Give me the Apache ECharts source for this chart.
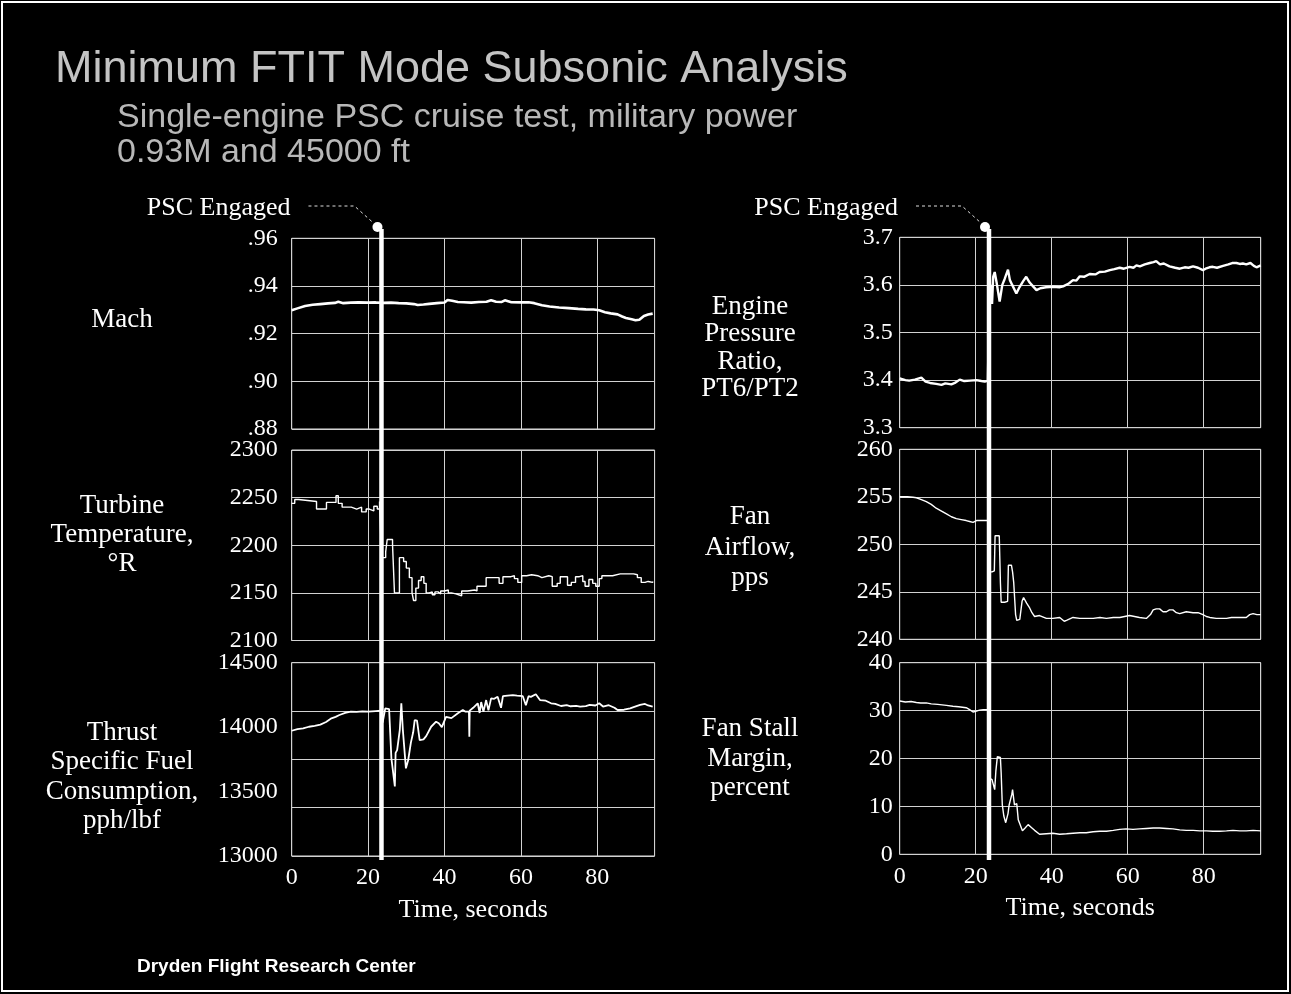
<!DOCTYPE html>
<html><head><meta charset="utf-8">
<script src="https://cdn.jsdelivr.net/npm/echarts@6/dist/echarts.min.js"></script>
<style>html,body{margin:0;padding:0;background:#000;}#c{width:1291px;height:994px;}</style>
</head><body><div id="c"></div>
<script>
// ---------- DATA ----------
const pscTime = 23.5;            // seconds, PSC engaged
const timeMax = 95;
const timeInterval = 20;

const machTicks = [0.88, 0.96, 0.02];
const eprTicks = [3.3, 3.7, 0.1];
const tempTicks = [2100, 2300, 50];
const airTicks = [240, 260, 5];
const tsfcTicks = [13000, 14500, 500];
const stallTicks = [0, 40, 10];

const machData = [[0,.9298],[1.5,.9306],[3.5,.9316],[5.5,.9321],[7.5,.9324],[9.5,.9327],[11.3,.9329],[12.2,.9334],[13.5,.9328],[15.5,.9330],[17.5,.9331],[20,.9330],[22,.9331],[24,.9329],[26,.9330],[28,.9328],[30,.9327],[32,.9324],[33,.9320],[34.5,.9322],[36,.9325],[38,.9328],[40,.9331],[40.8,.9341],[42,.9338],[43.5,.9333],[45,.9332],[47,.9330],[49,.9333],[51,.9334],[52.2,.9340],[53.5,.9334],[55,.9333],[55.8,.9340],[57.5,.9332],[60,.9331],[62,.9332],[63.5,.9328],[65.5,.9319],[67.5,.9314],[70,.9310],[72.5,.9307],[75,.9304],[77,.9302],[79,.9301],[80.5,.9298],[82,.9290],[83.5,.9285],[85.3,.9281],[86.5,.9272],[87.5,.9266],[89,.9260],[90,.9256],[91,.9258],[92.2,.9274],[93.3,.9280],[94.5,.9284]];

const tempData = [[0,2244],[0.8,2248],[1.8,2246],[6.5,2238],[9.1,2245],[11.6,2252],[12.2,2244],[13.2,2240],[15.6,2238],[17,2240],[18.3,2235],[19.5,2238],[20.3,2236],[21.5,2241],[22.4,2238],[23,2246],[23.5,2187],[24.6,2193],[25.0,2206],[26.4,2200],[26.9,2150],[28.2,2187],[29.3,2183],[30,2176],[30.8,2166],[31.5,2150],[31.9,2142],[32.5,2155],[33.2,2163],[33.9,2167],[34.6,2160],[35.2,2150],[36,2151],[36.8,2148],[37.5,2151],[38.3,2149],[39,2152],[40,2153],[41,2150],[41.8,2149],[43,2148],[43.7,2147],[44.5,2152],[46,2153],[47.9,2152],[48.5,2157],[50.2,2157],[50.9,2166],[53,2166],[54.3,2160],[55.3,2167],[57.4,2168],[58.3,2165],[59.2,2161],[60.2,2168],[61.5,2169],[62.8,2168],[64.4,2166],[65.5,2168],[67.3,2167],[68.2,2157],[69.5,2160],[70.3,2167],[72.2,2158],[73.2,2161],[74.3,2167],[75.3,2168],[76.2,2162],[76.8,2157],[77.8,2164],[78.8,2160],[79.6,2157],[80.5,2165],[81.2,2168],[82.6,2168],[84,2170],[86,2170],[88.4,2170],[89.5,2169],[90.5,2166],[91.5,2161],[92.5,2162],[93.3,2161],[94.5,2162]];

const tsfcData = [[0,13972],[1.5,13985],[3,13990],[4.5,14003],[6,14010],[7.5,14020],[9,14040],[10.4,14068],[11.5,14080],[12.5,14094],[14,14110],[15.5,14120],[17,14118],[18.5,14122],[20,14120],[22,14125],[23.3,14128],[23.8,14035],[24.5,14146],[25.5,14140],[26.1,13758],[26.6,13770],[27.0,13540],[27.2,13800],[27.6,13822],[28.3,13978],[28.7,14185],[29.1,13978],[29.9,13680],[30.5,13745],[31.2,13880],[31.8,13960],[32.2,14055],[32.8,14050],[33.5,13900],[34.5,13905],[35.2,13930],[36.5,14003],[37.8,14042],[38.5,14030],[39.3,14000],[40.4,14080],[41.8,14070],[43.5,14107],[44.8,14133],[45.5,14120],[46.4,14120],[46.5,13926],[46.6,14128],[47.5,14150],[48.7,14185],[49.2,14110],[49.6,14195],[50.2,14120],[50.9,14210],[51.5,14130],[52.2,14223],[53,14220],[53.9,14236],[54.8,14150],[55.3,14240],[56.5,14245],[57.9,14249],[59,14245],[60.5,14240],[61.3,14170],[62,14240],[62.6,14235],[63.9,14255],[65,14210],[66.5,14205],[67.9,14185],[69,14180],[70.5,14164],[72,14170],[73,14162],[74.5,14165],[75.5,14159],[77,14163],[78,14172],[79.5,14168],[80.5,14185],[81.5,14160],[83,14170],[84.5,14150],[85.3,14133],[87,14135],[88.6,14146],[89.5,14155],[91.2,14172],[92.5,14180],[93.3,14168],[94.5,14159]];

const eprData = [[0,3.4035],[1.5,3.400],[2.5,3.399],[4,3.401],[5.7,3.405],[6.8,3.397],[8,3.394],[9.6,3.392],[11,3.390],[12,3.393],[13.6,3.391],[14.5,3.394],[15.8,3.401],[17,3.398],[18.5,3.399],[20.2,3.400],[21.5,3.398],[22.4,3.397],[23.2,3.399],[23.6,3.57],[24,3.60],[24.3,3.56],[24.6,3.617],[25,3.627],[25.5,3.605],[26.3,3.565],[27,3.600],[27.6,3.612],[28.5,3.632],[29,3.610],[29.6,3.600],[30.7,3.582],[31.5,3.595],[32.5,3.608],[33.3,3.617],[34.2,3.605],[35.1,3.597],[36,3.589],[37,3.593],[38.5,3.595],[40.4,3.596],[42,3.595],[43,3.597],[44.5,3.603],[45.6,3.610],[46.5,3.609],[47.4,3.618],[48.5,3.617],[50,3.623],[51.5,3.622],[52.6,3.627],[54,3.628],[55.3,3.631],[56.5,3.633],[57.9,3.636],[59,3.634],[60.5,3.638],[61.5,3.636],[62.3,3.641],[63.2,3.639],[64.5,3.643],[65.8,3.646],[66.8,3.648],[67.5,3.650],[68.5,3.643],[69.5,3.645],[71,3.639],[72.5,3.636],[73.7,3.634],[75,3.637],[76,3.636],[77.2,3.639],[78.5,3.636],[79.8,3.631],[80.5,3.634],[81.5,3.637],[82.4,3.638],[83.5,3.636],[85.1,3.640],[86.5,3.643],[87.5,3.646],[88.6,3.646],[89.5,3.644],[90.3,3.645],[91.2,3.643],[92.3,3.646],[93.2,3.640],[93.9,3.637],[95,3.641]];

const airData = [[0,255.0],[2,255.0],[3.5,254.95],[4.4,254.9],[5.7,254.7],[7,254.5],[8.3,254.2],[9.6,253.8],[11,253.5],[12.3,253.2],[13.6,252.9],[14.9,252.7],[16.2,252.6],[17.5,252.5],[18.4,252.4],[19.3,252.3],[20.2,252.5],[21.9,252.5],[23.2,252.5],[23.6,247.1],[24.3,247.1],[24.9,247.2],[25.1,250.9],[26.2,250.9],[26.5,246.0],[26.7,243.9],[27.6,243.9],[28.4,244.0],[28.6,247.8],[29.4,247.8],[29.7,247.1],[30,246.0],[30.5,242.6],[30.8,242.0],[31.6,242.1],[32.2,244.0],[32.6,244.4],[33.4,243.8],[34.2,243.3],[34.8,242.8],[35.5,242.4],[36.8,242.5],[38.6,242.2],[40.3,242.2],[42.1,242.3],[43.3,241.9],[43.9,242.0],[45.6,242.3],[47.4,242.2],[49.1,242.2],[50.9,242.2],[52.7,242.3],[54.4,242.2],[56.2,242.3],[57.9,242.3],[59.2,242.4],[60.5,242.5],[61.8,242.4],[63.1,242.3],[64.9,242.2],[66,242.6],[66.7,243.1],[67.5,243.2],[68.4,243.2],[69.3,242.9],[70.2,242.9],[71,243.1],[71.9,243.1],[72.8,242.8],[73.7,242.7],[75.4,242.9],[77.2,242.8],[78.5,242.8],[79.8,242.6],[80.7,242.4],[81.6,242.3],[83.3,242.2],[84.6,242.2],[86,242.2],[87.3,242.3],[88.6,242.3],[90,242.3],[91.2,242.3],[92.1,242.6],[93,242.7],[94,242.6],[95,242.6]];

const stallData = [[0,32.0],[1.5,31.8],[3,31.9],[4.4,31.7],[5.5,31.6],[7,31.6],[8.3,31.4],[10,31.3],[12.3,31.1],[14,30.9],[15.5,30.8],[17.5,30.6],[18.4,30.2],[19.3,29.7],[20.2,29.9],[21,30.1],[22,30.2],[23.2,30.2],[23.6,15.9],[24.3,15.6],[24.8,15.6],[25.0,13.5],[25.3,17.3],[25.7,20.4],[26.5,20.2],[26.7,17],[27,10.3],[27.4,8],[27.9,6.6],[28.5,8.5],[28.8,10.3],[29.5,12.5],[29.7,13.5],[30.2,10.3],[30.8,10.6],[31.2,7.2],[32.3,4.9],[33.0,5.5],[33.8,6.2],[34.8,5.5],[35.5,5.0],[36.8,4.2],[38.6,4.3],[40.3,4.4],[42.1,4.2],[43.9,4.3],[45.6,4.4],[47.4,4.5],[49.1,4.5],[50.9,4.7],[52.7,4.8],[54.4,4.8],[56.2,5.0],[57.9,5.2],[59.6,5.3],[61.4,5.2],[63.1,5.3],[64.9,5.4],[66.7,5.5],[68.4,5.5],[70.2,5.4],[71.9,5.3],[73.7,5.1],[75.4,5.0],[77.2,5.0],[79,4.9],[80.7,4.9],[82.4,4.8],[84.2,4.8],[86,4.9],[87.7,5.0],[89.5,4.9],[91.2,4.9],[93,5.0],[95,4.9]];

const leftNames = ['Mach', 'Turbine\nTemperature,\n°R', 'Thrust\nSpecific Fuel\nConsumption,\npph/lbf'];
const rightNames = ['Engine\nPressure\nRatio,\nPT6/PT2', 'Fan\nAirflow,\npps', 'Fan Stall\nMargin,\npercent'];
const titleText = 'Minimum FTIT Mode Subsonic Analysis';
const subText1 = 'Single-engine PSC cruise test, military power';
const subText2 = '0.93M and 45000 ft';
const footerText = 'Dryden Flight Research Center';
const pscLabel = 'PSC Engaged';
const xName = 'Time, seconds';

// ---------- LAYOUT ----------
const serif = 'Liberation Serif';
const sans = 'Liberation Sans';
const gridC = '#d2d2d2';
const L = 291.7, LW = 362.9, R = 899.7, RW = 361;
const grids = [
  {left:L, top:238.3, width:LW, height:190.7},
  {left:L, top:450, width:LW, height:190.5},
  {left:L, top:662.7, width:LW, height:193.3},
  {left:R, top:237.3, width:RW, height:190.4},
  {left:R, top:449.3, width:RW, height:190},
  {left:R, top:662.7, width:RW, height:191.6},
  {left:L, top:229, width:LW, height:631},
  {left:R, top:229, width:RW, height:631}
].map((g,i) => Object.assign({show: i<6, borderColor:'#e0e0e0', borderWidth:1, backgroundColor:'transparent', containLabel:false}, g));

function xAx(g, showLab, hidden) {
  return {type:'value', gridIndex:g, min:0, max:timeMax, interval:timeInterval, show:!hidden,
    axisLine:{show:false}, axisTick:{show:false},
    splitLine:{show:true, lineStyle:{color:gridC, width:1}},
    axisLabel:{show:showLab, color:'#fff', fontFamily:serif, fontSize:24, margin:10, showMaxLabel:false},
    name: showLab ? xName : '', nameLocation:'middle', nameGap:41,
    nameTextStyle:{color:'#fff', fontFamily:serif, fontSize:26}};
}
function yAx(g, t, margin, fmt, showSplit) {
  return {type:'value', gridIndex:g, min:t[0], max:t[1], interval:t[2],
    axisLine:{show:false}, axisTick:{show:false},
    splitLine:{show:showSplit !== false, lineStyle:{color:gridC, width:1}},
    axisLabel:{color:'#fff', fontFamily:serif, fontSize:24, margin:margin, formatter:fmt}};
}
const machFmt = v => v.toFixed(2).replace(/^0/, '');
const eprFmt = v => v.toFixed(1);
const intFmt = v => String(Math.round(v));

const xAxes = [xAx(0,false), xAx(1,false), xAx(2,true), xAx(3,false), xAx(4,false), xAx(5,true), xAx(6,false,true), xAx(7,false,true)];
const yAxes = [
  yAx(0, machTicks, 14, machFmt),
  yAx(1, tempTicks, 14, intFmt),
  yAx(2, tsfcTicks, 14, intFmt, false),
  yAx(3, eprTicks, 7, eprFmt),
  yAx(4, airTicks, 7, intFmt),
  yAx(5, stallTicks, 7, intFmt),
  {type:'value', gridIndex:6, min:0, max:1, show:false},
  {type:'value', gridIndex:7, min:0, max:1, show:false},
  // TSFC chart has 4 grid divisions while its labels step by 500
  {type:'value', gridIndex:2, min:0, max:4, interval:1, axisLine:{show:false}, axisTick:{show:false}, axisLabel:{show:false}, splitLine:{show:true, lineStyle:{color:gridC, width:1}}}
];

function ln(xi, yi, data, w, step) {
  return {type:'line', xAxisIndex:xi, yAxisIndex:yi, data:data, showSymbol:false, symbol:'none', step:step||false,
    lineStyle:{color:'#fff', width:w}, animation:false, z:3};
}
const pscLine = [[pscTime, 0], [pscTime, 1]];
const series = [
  ln(0,0,machData,2.6), ln(1,1,tempData,1.4,'end'), ln(2,2,tsfcData,1.8),
  ln(3,3,eprData,2.4), ln(4,4,airData,1.4), ln(5,5,stallData,1.4),
  Object.assign(ln(6,6,pscLine,4.5), {z:5}),
  Object.assign(ln(7,7,pscLine,4.5), {z:5})
];

const chart = echarts.init(document.getElementById('c'), null, {renderer:'canvas'});
chart.setOption({backgroundColor:'#000', animation:false, grid:grids, xAxis:xAxes, yAxis:yAxes, series:series});

// ---------- TEXT / ANNOTATIONS ----------
const g = [];
g.push({type:'rect', shape:{x:2, y:2, width:1286, height:989}, style:{fill:'none', stroke:'#ffffff', lineWidth:2}, silent:true});
g.push({type:'text', x:55, y:70, style:{text:titleText, fill:'#c4c4c4', font:'45px ' + sans, textVerticalAlign:'middle'}});
g.push({type:'text', x:117, y:118, style:{text:subText1, fill:'#b8b8b8', font:'34px ' + sans, textVerticalAlign:'middle'}});
g.push({type:'text', x:117, y:153, style:{text:subText2, fill:'#b8b8b8', font:'34px ' + sans, textVerticalAlign:'middle'}});
g.push({type:'text', x:137, y:967, style:{text:footerText, fill:'#fff', font:'bold 19px ' + sans, textVerticalAlign:'middle'}});

const leftCy = [320, 535, 777], rightCy = [348, 547.5, 758.5];
const leftLH = [29, 29, 29.5], rightLH = [27.5, 30.5, 29.5];
leftNames.forEach((t,i) => g.push({type:'text', x:122, y:leftCy[i], style:{text:t, fill:'#fff', font:'27px ' + serif, textAlign:'center', textVerticalAlign:'middle', lineHeight:leftLH[i]}}));
rightNames.forEach((t,i) => g.push({type:'text', x:750, y:rightCy[i], style:{text:t, fill:'#fff', font:'27px ' + serif, textAlign:'center', textVerticalAlign:'middle', lineHeight:rightLH[i]}}));

[6,7].forEach(gi => {
  const p = chart.convertToPixel({xAxisIndex:gi, yAxisIndex:gi}, [pscTime, 1]);
  g.push({type:'text', x:p[0]-91, y:p[1]-21, style:{text:pscLabel, fill:'#fff', font:'26px ' + serif, textAlign:'right', textVerticalAlign:'middle'}});
  g.push({type:'polyline', shape:{points:[[p[0]-73,p[1]-23],[p[0]-27,p[1]-23],[p[0]-8,p[1]-6]]}, style:{stroke:'#ddd', lineWidth:1, lineDash:[3,3], fill:null}});
  g.push({type:'circle', shape:{cx:p[0]-4, cy:p[1]-2, r:5}, style:{fill:'#fff'}});
});
chart.setOption({graphic:g});
</script></body></html>
